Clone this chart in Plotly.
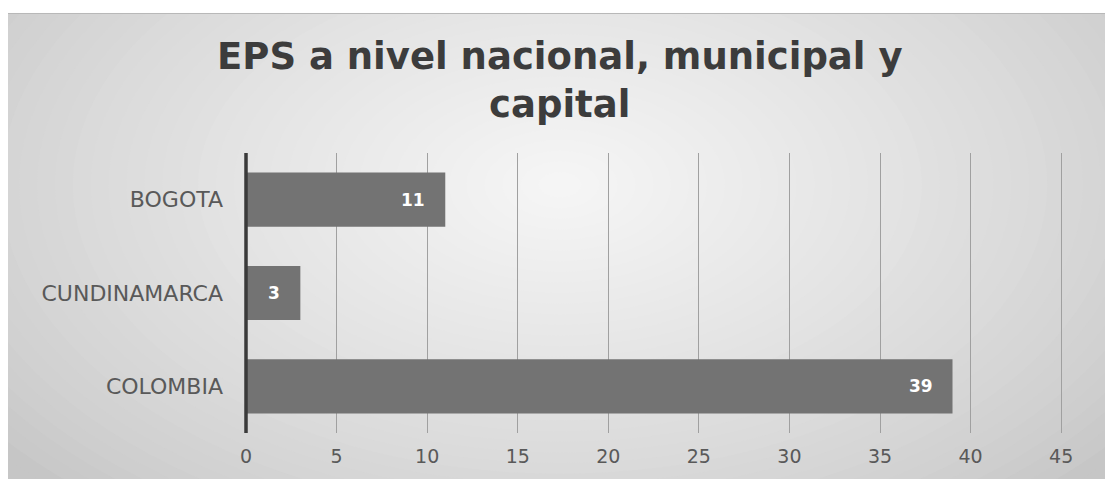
import plotly.graph_objects as go

# Chart data
categories = ["COLOMBIA", "CUNDINAMARCA", "BOGOTA"]
values = [39, 3, 11]
x_ticks = [0, 5, 10, 15, 20, 25, 30, 35, 40, 45]
title_text = "EPS a nivel nacional, municipal y<br>capital"

W, H = 1105, 479
X_MAX = 45.1
ML, MT, MB = 246, 153, 44
SCALE = 815 / 45.0                      # pixels per unit on the value axis
MR = W - ML - round(SCALE * X_MAX)
PW, PH = W - ML - MR, H - MT - MB


def px_x(px):
    return (px - ML) / PW


def px_y(py):
    return (H - MB - py) / PH


# Soft radial backdrop: base panel plus concentric ellipses growing lighter
shapes = [dict(type="rect", xref="paper", yref="paper", layer="below",
               x0=px_x(-10), x1=px_x(W + 10), y0=px_y(H + 10), y1=px_y(-10),
               fillcolor="rgb(198,198,198)", line=dict(width=0))]
cx, cy = 560, 185
rx0, ry0 = 720, 430
dark, light = 198, 245
steps = 40
for i in range(steps):
    t = i / (steps - 1)
    g = round(dark + (light - dark) * (t ** 0.8))
    s = 1 - t * 0.97
    rx, ry = rx0 * s, ry0 * s
    shapes.append(dict(
        type="circle", xref="paper", yref="paper", layer="below",
        x0=px_x(cx - rx), x1=px_x(cx + rx),
        y0=px_y(cy + ry), y1=px_y(cy - ry),
        fillcolor=f"rgb({g},{g},{g})", line=dict(width=0),
    ))

# White page margins around the chart panel
shapes.append(dict(type="rect", xref="paper", yref="paper", layer="below",
                   x0=px_x(-10), x1=px_x(W + 10), y0=px_y(12), y1=px_y(-10),
                   fillcolor="white", line=dict(width=0)))
shapes.append(dict(type="rect", xref="paper", yref="paper", layer="below",
                   x0=px_x(-10), x1=px_x(8), y0=px_y(H + 10), y1=px_y(-10),
                   fillcolor="white", line=dict(width=0)))
shapes.append(dict(type="line", xref="paper", yref="paper", layer="below",
                   x0=px_x(8), x1=px_x(W), y0=px_y(12.5), y1=px_y(12.5),
                   line=dict(color="#b8b8b8", width=1)))

fig = go.Figure()
fig.add_trace(go.Bar(
    x=values, y=categories, orientation="h",
    marker=dict(color="#737373", line=dict(width=0)),
    width=0.58, hoverinfo="skip",
))

# Value labels placed inside the bar ends
annotations = []
for cat, val in zip(categories, values):
    annotations.append(dict(
        x=val, y=cat, xref="x", yref="y", text=str(val),
        xanchor="right", yanchor="middle", xshift=-18, showarrow=False,
        font=dict(family="DejaVu Sans", size=17, color="white", weight="bold"),
    ))

# Two-line chart title
annotations.append(dict(
    text=title_text, xref="paper", yref="paper",
    x=px_x(560), y=px_y(80), xanchor="center", yanchor="middle",
    showarrow=False, align="center",
    font=dict(family="DejaVu Sans", size=37, color="#3c3c3c", weight="bold"),
))

fig.update_layout(
    width=W, height=H,
    margin=dict(l=ML, r=MR, t=MT, b=MB, pad=0),
    paper_bgcolor="white",
    plot_bgcolor="rgba(0,0,0,0)",
    showlegend=False,
    shapes=shapes,
    annotations=annotations,
    xaxis=dict(
        range=[0, X_MAX], tickvals=x_ticks, ticktext=[str(v) for v in x_ticks],
        showgrid=True, gridcolor="#a0a0a0", gridwidth=1,
        zeroline=False, showline=False, ticks="",
        tickfont=dict(family="DejaVu Sans", size=19, color="#595959"),
        ticklabelstandoff=10, fixedrange=True,
    ),
    yaxis=dict(
        categoryorder="array", categoryarray=categories,
        range=[-0.5, 2.5], showgrid=False, zeroline=False,
        showline=False, ticks="",
        tickfont=dict(family="DejaVu Sans", size=22, color="#595959"),
        ticklabelstandoff=22, fixedrange=True,
    ),
)

# Vertical category axis line at the value axis origin (left edge of the plot)
fig.add_shape(type="line", xref="paper", yref="paper", x0=0, x1=0, y0=0, y1=1,
              line=dict(color="#3a3a3a", width=3.5), layer="above")

fig.write_html("out.html")
